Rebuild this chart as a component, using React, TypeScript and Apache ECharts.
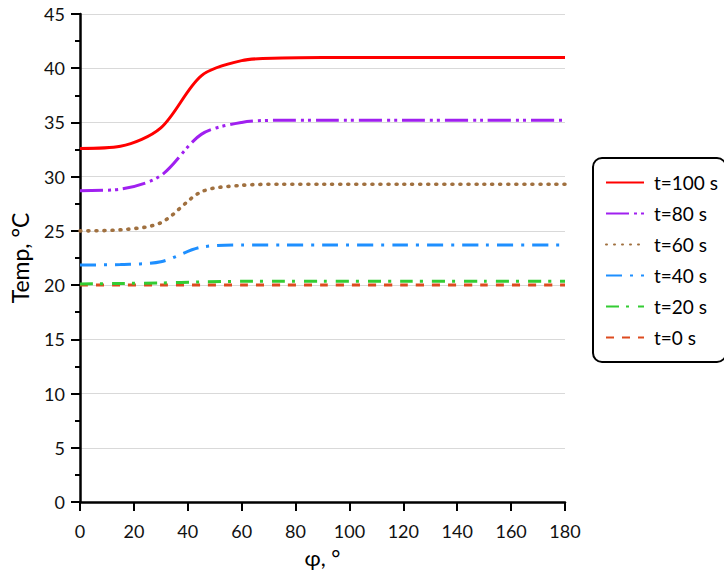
import React, { useEffect, useRef } from "react";
import * as echarts from "echarts";

const phi = [0, 15, 30, 45, 60, 75, 90, 120, 150, 180];
const t100 = [32.6, 32.8, 34.5, 39.3, 40.7, 40.95, 41.0, 41.0, 41.0, 41.0];
const t80 = [28.7, 28.85, 30.1, 33.9, 35.0, 35.2, 35.2, 35.2, 35.2, 35.2];
const t60 = [25.0, 25.1, 25.75, 28.6, 29.2, 29.3, 29.3, 29.3, 29.3, 29.3];
const t40 = [21.85, 21.9, 22.15, 23.5, 23.7, 23.7, 23.7, 23.7, 23.7, 23.7];
const t20 = [20.1, 20.15, 20.2, 20.3, 20.35, 20.35, 20.35, 20.35, 20.35, 20.35];
const t0 = [20.0, 20.0, 20.0, 20.0, 20.0, 20.0, 20.0, 20.0, 20.0, 20.0];

const seriesNames = ["t=100 s", "t=80 s", "t=60 s", "t=40 s", "t=20 s", "t=0 s"];
const seriesValues = [t100, t80, t60, t40, t20, t0];
const colors = ["#FF0000", "#A020F0", "#A0703F", "#1E8FFF", "#33CC33", "#DD4B1F"];
const dashes: any[] = [
  "solid",
  [23, 5, 3, 4, 3, 5],
  [1, 7],
  [16, 8, 3, 8],
  [13, 7, 3, 9],
  [8, 8],
];
const caps = ["butt", "butt", "round", "butt", "butt", "butt"];
const widths = [3, 3, 3.6, 3, 3, 3];

const FONT = "Lato";

export default function App() {
  const ref = useRef<HTMLDivElement>(null);
  useEffect(() => {
    if (!ref.current) return;
    const chart = echarts.init(ref.current, undefined, { renderer: "svg" });
    chart.setOption({
      animation: false,
      textStyle: { fontFamily: FONT },
      grid: { left: 76, top: 14, width: 489, height: 488, containLabel: false },
      legend: {
        orient: "vertical",
        left: 593,
        top: 158,
        data: seriesNames,
        itemWidth: 38,
        itemHeight: 17,
        itemGap: 12,
        padding: [15, 8, 15, 12],
        borderColor: "#000",
        borderWidth: 2,
        borderRadius: 9,
        itemStyle: { opacity: 0 },
        textStyle: { fontFamily: FONT, fontSize: 19, color: "#000", lineHeight: 17, padding: [0, 0, 0, 5] },
      },
      xAxis: {
        type: "value",
        min: 0,
        max: 180,
        interval: 20,
        name: "φ, °",
        nameLocation: "middle",
        nameGap: 44,
        nameTextStyle: { fontFamily: FONT, fontSize: 22, color: "#000" },
        axisLine: { show: true, onZero: false, lineStyle: { color: "#000", width: 2.5 } },
        axisTick: { show: true, length: 9, lineStyle: { color: "#000", width: 2 } },
        axisLabel: { fontFamily: FONT, fontSize: 18, color: "#111", margin: 20 },
        splitLine: { show: false },
      },
      yAxis: {
        type: "value",
        min: 0,
        max: 45,
        interval: 5,
        name: "Temp, °C",
        nameLocation: "middle",
        nameGap: 49,
        nameTextStyle: { fontFamily: FONT, fontSize: 23, color: "#000" },
        axisLine: { show: true, lineStyle: { color: "#000", width: 2.5 } },
        axisTick: { show: true, length: 9, lineStyle: { color: "#000", width: 2 } },
        minorTick: { show: true, splitNumber: 2, length: 5, lineStyle: { color: "#000", width: 2 } },
        axisLabel: { fontFamily: FONT, fontSize: 18, color: "#111", margin: 15 },
        splitLine: { show: true, lineStyle: { color: "#d9d9d9", width: 1 } },
      },
      series: seriesNames.map((name, i) => ({
        name,
        type: "line",
        data: phi.map((x, j) => [x, seriesValues[i][j]]),
        smooth: 0.3,
        symbol: "none",
        z: 10 - i,
        lineStyle: { color: colors[i], width: widths[i], type: dashes[i], cap: caps[i] },
        itemStyle: { color: colors[i] },
      })),
    });
    return () => chart.dispose();
  }, []);
  return (
    <div
      ref={ref}
      style={{ position: "fixed", left: 0, top: 0, width: 724, height: 576, background: "#fff" }}
    />
  );
}
